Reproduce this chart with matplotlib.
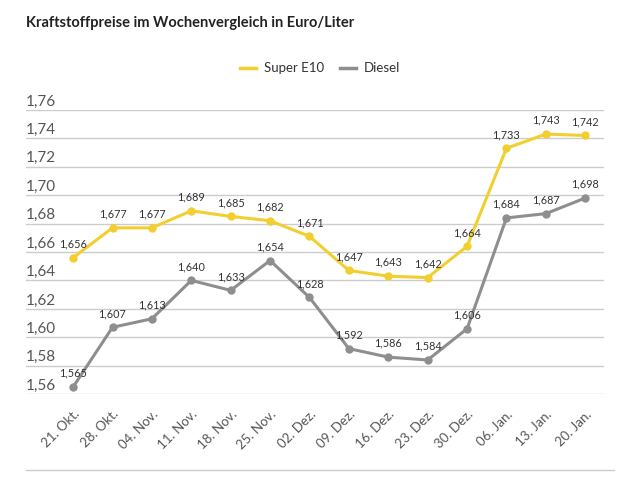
import matplotlib
matplotlib.use('Agg')
from matplotlib import pyplot as plt
from matplotlib.lines import Line2D

plt.rcParams['font.family'] = ['Lato', 'DejaVu Sans']

weeks = ['21. Okt.', '28. Okt.', '04. Nov.', '11. Nov.', '18. Nov.', '25. Nov.', '02. Dez.',
         '09. Dez.', '16. Dez.', '23. Dez.', '30. Dez.', '06. Jan.', '13. Jan.', '20. Jan.']
super_e10 = [1.656, 1.677, 1.677, 1.689, 1.685, 1.682, 1.671,
             1.647, 1.643, 1.642, 1.664, 1.733, 1.743, 1.742]
diesel = [1.565, 1.607, 1.613, 1.640, 1.633, 1.654, 1.628,
          1.592, 1.586, 1.584, 1.606, 1.684, 1.687, 1.698]
yticks = [1.56, 1.58, 1.60, 1.62, 1.64, 1.66, 1.68, 1.70, 1.72, 1.74, 1.76]

yellow = '#F2CF2E'
grey = '#8E8E8E'

fig = plt.figure(figsize=(6.4, 4.8), dpi=100)
ax = fig.add_axes([0.041, 0.179, 0.903, 0.592])

x = list(range(len(weeks)))
ax.plot(x, super_e10, color=yellow, lw=2.2, marker='o', ms=5, zorder=3)
ax.plot(x, diesel, color=grey, lw=2.2, marker='o', ms=5, zorder=3)

# value labels above each point
for series in (super_e10, diesel):
    for xi, v in zip(x, series):
        ax.annotate(f'{v:.3f}'.replace('.', ','), (xi, v), xytext=(0, 6),
                    textcoords='offset points', ha='center', va='bottom',
                    fontsize=7.8, color='#333333', zorder=4)

ax.set_xlim(-1.19, 13.48)
ax.set_ylim(1.56, 1.76)
for t in yticks:
    ax.axhline(t, color='#CCCCCC', lw=1, zorder=1)
    ax.text(0, t + 0.001, f'{t:.2f}'.replace('.', ','), transform=ax.get_yaxis_transform(),
            ha='left', va='bottom', fontsize=11, color='#555555')
ax.set_yticks([])
ax.set_xticks(x)
ax.set_xticklabels(weeks, rotation=45, ha='right', rotation_mode='anchor',
                   fontsize=9.5, color='#555555')
ax.tick_params(axis='x', length=0, pad=10)
for s in ax.spines.values():
    s.set_visible(False)

fig.text(0.041, 0.952, 'Kraftstoffpreise im Wochenvergleich in Euro/Liter',
         fontsize=10.5, fontweight='bold', color='#222222', va='center')

handles = [Line2D([], [], color=yellow, lw=2.5), Line2D([], [], color=grey, lw=2.5)]
fig.legend(handles, ['Super E10', 'Diesel'], loc='center', bbox_to_anchor=(0.5, 0.858),
           ncol=2, frameon=False, fontsize=9.5, handlelength=1.2, handletextpad=0.6,
           columnspacing=1.2, labelcolor='#333333')

fig.add_artist(Line2D([0.041, 0.96], [0.021, 0.021], color='#CCCCCC', lw=1))

fig.savefig('out.png', dpi=100)
